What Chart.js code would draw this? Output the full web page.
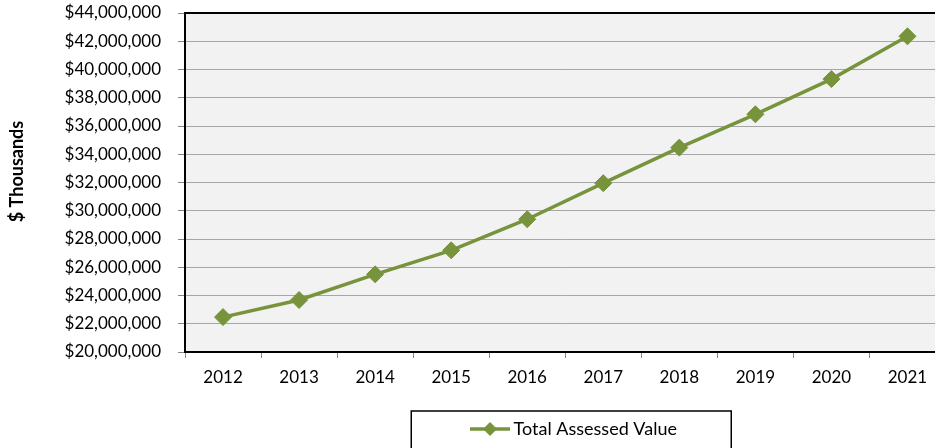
<!DOCTYPE html>
<html>
<head>
<meta charset="utf-8">
<script src="https://cdn.jsdelivr.net/npm/chart.js@4"></script>
<style>
  body { margin: 0; overflow: hidden; background: #fff; }
  canvas { display: block; }
</style>
</head>
<body>
<canvas id="chart" width="955" height="448"></canvas>
<script>
const years = [`2012`, `2013`, `2014`, `2015`, `2016`, `2017`, `2018`, `2019`, `2020`, `2021`];
const assessedValues = [22470000, 23680000, 25500000, 27200000, 29400000, 31950000, 34470000, 36830000, 39320000, 42350000];
const seriesLabel = `Total Assessed Value`;
const axisTitle = `$ Thousands`;
const yMin = 20000000;
const yMax = 44000000;
const yStep = 2000000;

const GREEN = `#77933c`;
const FONT = `Lato, "Open Sans", sans-serif`;

const formatMoney = (value) => `$${Number(value).toLocaleString(`en-US`)}`;

// legend symbol: short line with a diamond in the middle
const makeLegendSymbol = () => {
  const c = document.createElement(`canvas`);
  c.width = 40;
  c.height = 16;
  const ctx = c.getContext(`2d`);
  ctx.strokeStyle = GREEN;
  ctx.lineWidth = 3.5;
  ctx.beginPath();
  ctx.moveTo(0, 8);
  ctx.lineTo(40, 8);
  ctx.stroke();
  ctx.fillStyle = GREEN;
  ctx.beginPath();
  ctx.moveTo(20, 1);
  ctx.lineTo(27, 8);
  ctx.lineTo(20, 15);
  ctx.lineTo(13, 8);
  ctx.closePath();
  ctx.fill();
  return c;
};

const plotFrame = {
  id: `plotFrame`,
  afterLayout(chart) {
    // the legend entry sits a bit right of the plot centre
    chart.legend.left += 11;
    chart.legend.right += 11;
  },
  beforeDraw(chart) {
    const {ctx, chartArea: a} = chart;
    ctx.save();
    ctx.fillStyle = `#f2f2f2`;
    ctx.fillRect(a.left, a.top, a.right - a.left, a.bottom - a.top);
    ctx.restore();
  },
  afterDraw(chart) {
    const {ctx, chartArea: a, legend} = chart;
    ctx.save();
    ctx.strokeStyle = `#000`;
    ctx.lineWidth = 2;
    ctx.beginPath();
    ctx.moveTo(a.left - 1, a.top);
    ctx.lineTo(a.right, a.top);
    ctx.stroke();

    // box round the legend
    const cx = (a.left + a.right) / 2 + 6;
    ctx.lineWidth = 1.5;
    ctx.strokeRect(cx - 160, legend.top - 2, 320, 60);

    // axis title, a little above the axis middle as in the original
    ctx.translate(17, (a.top + a.bottom) / 2 - 11);
    ctx.rotate(-Math.PI / 2);
    ctx.font = `bold 18px ${FONT}`;
    ctx.fillStyle = `#000`;
    ctx.textAlign = `center`;
    ctx.textBaseline = `middle`;
    ctx.fillText(axisTitle, 0, 0);
    ctx.restore();
  }
};

const render = () => {
  Chart.defaults.font.family = FONT;
  Chart.defaults.font.size = 17;
  Chart.defaults.color = `#000`;

  new Chart(document.getElementById(`chart`), {
    type: `line`,
    plugins: [plotFrame],
    data: {
      labels: years,
      datasets: [{
        label: seriesLabel,
        data: assessedValues,
        borderColor: GREEN,
        backgroundColor: GREEN,
        borderWidth: 3.5,
        tension: 0,
        pointStyle: `rectRot`,
        pointRadius: 8.5,
        pointHoverRadius: 8.5,
        pointBackgroundColor: GREEN,
        pointBorderColor: GREEN,
        pointBorderWidth: 1,
        clip: false
      }]
    },
    options: {
      responsive: false,
      animation: false,
      layout: {padding: {top: 13, left: 8, right: 1, bottom: 0}},
      scales: {
        x: {
          offset: true,
          grid: {
            offset: true,
            drawOnChartArea: false,
            tickLength: 6,
            tickColor: `#868686`,
            lineWidth: 1
          },
          border: {color: `#000`, width: 2},
          ticks: {padding: 9},
          afterFit(scale) {
            scale.height = 61;
          }
        },
        y: {
          min: yMin,
          max: yMax,
          grid: {
            color: `#a6a6a6`,
            tickColor: `#868686`,
            tickLength: 7,
            lineWidth: 1
          },
          border: {color: `#000`, width: 2},
          ticks: {
            stepSize: yStep,
            padding: 17,
            callback: (value) => formatMoney(value)
          },
          afterFit(scale) {
            scale.width = 177;
            // tick padding would otherwise push the plot top down
            scale.paddingTop = 10;
            scale.paddingBottom = 10;
          }
        }
      },
      plugins: {
        tooltip: {enabled: false},
        legend: {
          position: `bottom`,
          fullSize: false,
          labels: {
            usePointStyle: true,
            pointStyle: makeLegendSymbol(),
            pointStyleWidth: 29,
            boxHeight: 10,
            padding: 7,
            font: {size: 18}
          }
        }
      }
    }
  });
};

if (document.fonts && document.fonts.load) {
  Promise.all([
    document.fonts.load(`17px Lato`),
    document.fonts.load(`bold 18px Lato`)
  ]).then(render, render);
} else {
  render();
}
</script>
</body>
</html>
